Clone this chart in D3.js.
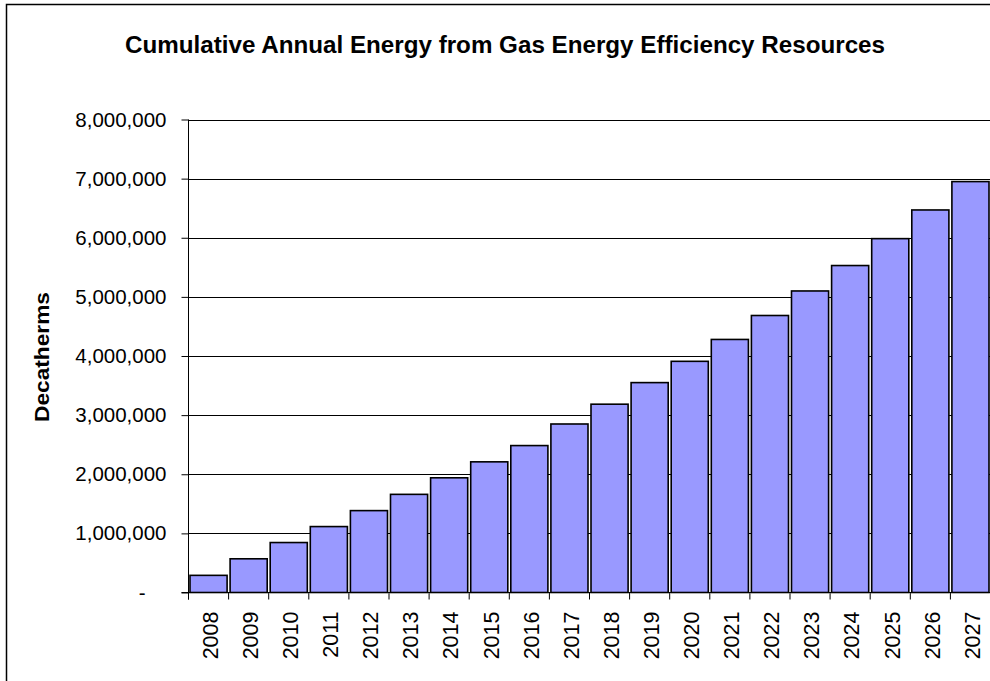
<!DOCTYPE html>
<html>
<head>
<meta charset="utf-8">
<script src="https://cdn.jsdelivr.net/npm/d3@7"></script>
<style>
  html, body { margin: 0; padding: 0; background: #fff; }
  svg { display: block; }
  text { font-family: "Liberation Sans", Arial, sans-serif; fill: #000; }
</style>
</head>
<body>
<svg id="chart" width="990" height="681"></svg>
<script>
const years = ["2008","2009","2010","2011","2012","2013","2014","2015","2016","2017",
               "2018","2019","2020","2021","2022","2023","2024","2025","2026","2027"];
const decatherms = [290000, 570000, 845000, 1115000, 1385000, 1660000, 1940000, 2210000, 2485000, 2850000,
                    3185000, 3550000, 3910000, 4280000, 4685000, 5100000, 5530000, 5985000, 6470000, 6950000];
const yTicks = [0, 1000000, 2000000, 3000000, 4000000, 5000000, 6000000, 7000000, 8000000];
const titleText = "Cumulative Annual Energy from Gas Energy Efficiency Resources";
const yAxisTitle = "Decatherms";

const data = years.map((y, i) => ({ year: y, value: decatherms[i] }));

const svg = d3.select("#chart");

// outer frame
svg.append("rect")
  .attr("x", 6.5).attr("y", 4.5)
  .attr("width", 1000).attr("height", 700)
  .attr("fill", "#fff").attr("stroke", "#000").attr("stroke-width", 1.5);

const plotLeft = 188.5, plotRight = 990.5, plotTop = 119.5, plotBottom = 592.5;

const x = d3.scaleBand().domain(years).range([plotLeft, plotRight]).padding(0);
const y = d3.scaleLinear().domain([0, 8000000]).range([plotBottom, plotTop]);

// gridlines
svg.append("g").selectAll("line").data(yTicks.filter(t => t > 0)).join("line")
  .attr("x1", plotLeft).attr("x2", plotRight)
  .attr("y1", d => Math.round(y(d)) + 0.5).attr("y2", d => Math.round(y(d)) + 0.5)
  .attr("stroke", "#000").attr("stroke-width", 1);

// bars
svg.append("g").selectAll("rect").data(data).join("rect")
  .attr("x", d => x(d.year) + 1.5)
  .attr("width", x.bandwidth() - 3)
  .attr("y", d => y(d.value))
  .attr("height", d => y(0) - y(d.value))
  .attr("fill", "#9999FF")
  .attr("stroke", "#000")
  .attr("stroke-width", 1.6);

// y axis
const yAxis = d3.axisLeft(y).tickValues(yTicks).tickSize(7).tickPadding(15)
  .tickFormat(d => d === 0 ? "-" : d3.format(",")(d));
const gy = svg.append("g").attr("transform", `translate(${plotLeft},0)`).call(yAxis);
gy.select(".domain").attr("stroke", "#000").attr("d", `M0,${plotTop}V${plotBottom + 7}`);
gy.selectAll(".tick line").attr("stroke", "#000");
gy.selectAll(".tick text")
  .style("font-family", "'Liberation Sans', Arial, sans-serif")
  .style("font-size", "20.5px")
  .attr("fill", "#000");
gy.selectAll(".tick").filter(d => d === 0).select("text").attr("dx", -21);

// x axis
const xAxis = d3.axisBottom(x).tickSize(0).tickPadding(0);
const gx = svg.append("g").attr("transform", `translate(0,${plotBottom})`).call(xAxis);
gx.select(".domain").attr("stroke", "#000").attr("d", `M${plotLeft - 7},0H${plotRight}`);
gx.selectAll("line.bnd").data(years).join("line").attr("class", "bnd")
  .attr("x1", d => x(d)).attr("x2", d => x(d))
  .attr("y1", 0).attr("y2", 7).attr("stroke", "#000");
gx.selectAll(".tick text")
  .style("font-family", "'Liberation Sans', Arial, sans-serif")
  .style("font-size", "21.5px")
  .attr("fill", "#000")
  .attr("text-anchor", "end")
  .attr("transform", "rotate(-90)")
  .attr("x", -19).attr("y", 1.5).attr("dy", "0.36em");

// title
svg.append("text")
  .attr("x", 505).attr("y", 53)
  .attr("text-anchor", "middle")
  .attr("textLength", 760).attr("lengthAdjust", "spacingAndGlyphs")
  .style("font-size", "23.5px").style("font-weight", "bold")
  .text(titleText);

// y axis title
svg.append("text")
  .attr("transform", "translate(49,357) rotate(-90)")
  .attr("text-anchor", "middle")
  .attr("textLength", 130).attr("lengthAdjust", "spacingAndGlyphs")
  .style("font-size", "21px").style("font-weight", "bold")
  .text(yAxisTitle);
</script>
</body>
</html>
